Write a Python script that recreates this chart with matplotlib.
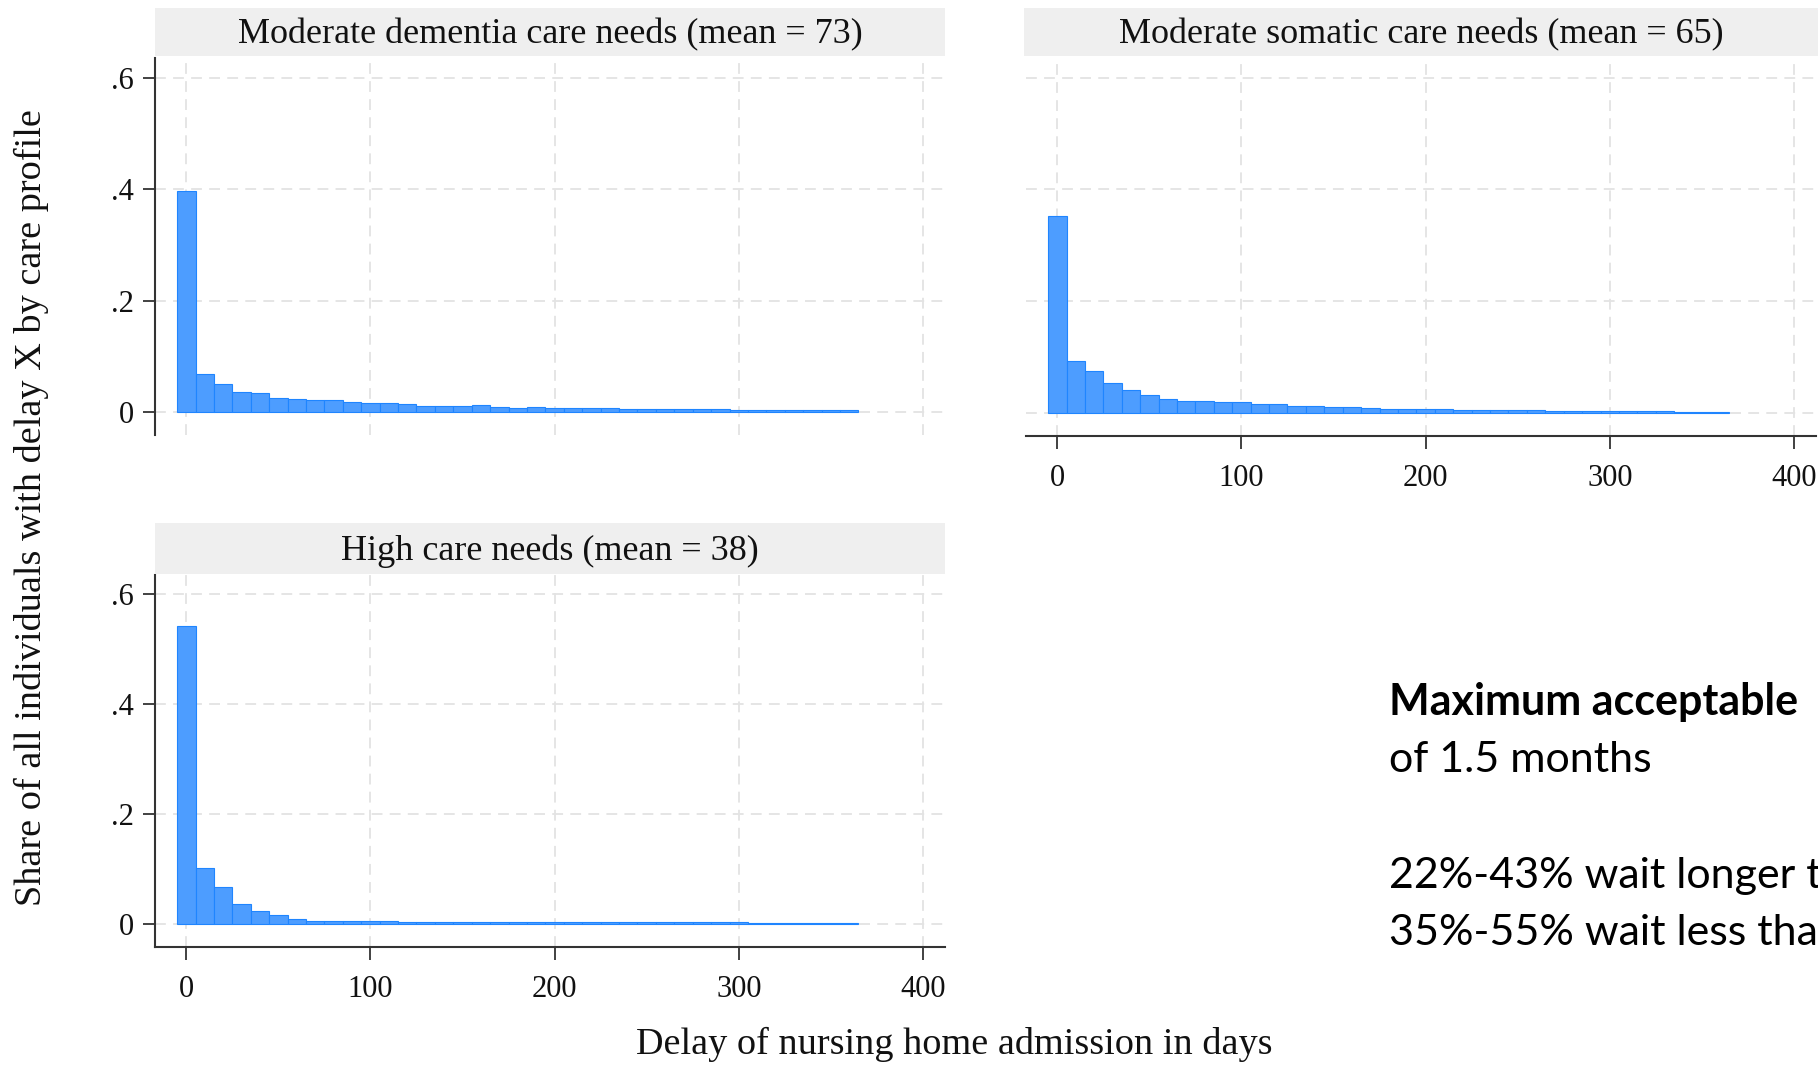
import matplotlib.pyplot as plt

# delay bins (days, bin centre) and share of individuals per care profile
delay_days = list(range(0, 370, 10))

dementia_share = [0.396, 0.068, 0.051, 0.036, 0.035, 0.026, 0.024, 0.021, 0.021, 0.019,
                  0.016, 0.016, 0.014, 0.011, 0.011, 0.011, 0.012, 0.009, 0.008, 0.009,
                  0.008, 0.008, 0.007, 0.007, 0.006, 0.006, 0.006, 0.005, 0.005, 0.005,
                  0.004, 0.004, 0.004, 0.004, 0.003, 0.003, 0.003]
somatic_share = [0.353, 0.093, 0.075, 0.054, 0.041, 0.032, 0.026, 0.022, 0.022, 0.020,
                 0.020, 0.017, 0.017, 0.013, 0.013, 0.010, 0.010, 0.009, 0.008, 0.008,
                 0.007, 0.007, 0.006, 0.006, 0.005, 0.005, 0.005, 0.004, 0.004, 0.004,
                 0.003, 0.003, 0.003, 0.003, 0.002, 0.002, 0.002]
high_share = [0.543, 0.103, 0.068, 0.037, 0.025, 0.017, 0.009, 0.006, 0.006, 0.006,
              0.006, 0.006, 0.005, 0.005, 0.005, 0.005, 0.005, 0.005, 0.005, 0.005,
              0.004, 0.004, 0.004, 0.004, 0.004, 0.004, 0.004, 0.004, 0.004, 0.004,
              0.004, 0.003, 0.003, 0.003, 0.003, 0.003, 0.003]

titles = ["Moderate dementia care needs (mean = 73)",
          "Moderate somatic care needs (mean = 65)",
          "High care needs (mean = 38)"]

y_ticks = [0, 0.2, 0.4, 0.6]
y_labels = ["0", ".2", ".4", ".6"]
x_ticks = [0, 100, 200, 300, 400]

# side note, as far as it is visible on the (cropped) slide
note_lines = ["Maximum acceptable", "of 1.5 months",
              "22%-43% wait longer t", "35%-55% wait less tha"]

SERIF = "Liberation Serif"
BAR = "#4d9dff"
EDGE = "#1f85ff"
GRID = "#e3e3e3"
STRIP = "#efefef"

W, H = 1818, 1065
fig = plt.figure(figsize=(W / 100, H / 100), dpi=100)


def px_axes(x0, y0, x1, y1):
    # axes from pixel box (top-left origin)
    return fig.add_axes([x0 / W, 1 - y1 / H, (x1 - x0) / W, (y1 - y0) / H])


def strip(x0, y0, x1, y1, text):
    s = px_axes(x0, y0, x1, y1)
    s.set_facecolor(STRIP)
    for sp in s.spines.values():
        sp.set_visible(False)
    s.set_xticks([])
    s.set_yticks([])
    s.text(0.5, 0.44, text, ha="center", va="center", fontsize=26, family=SERIF,
           color="#111111", transform=s.transAxes)


def panel(ax, values, show_y, show_x):
    ax.bar(delay_days, values, width=10, color=BAR, edgecolor=EDGE, linewidth=0.8, zorder=2)
    ax.set_xlim(-17, 412)
    ax.set_ylim(-0.041, 0.635)
    ax.set_xticks(x_ticks)
    ax.set_yticks(y_ticks)
    ax.grid(True, color=GRID, linestyle=(0, (6, 4)), linewidth=1.3, zorder=0)
    ax.set_axisbelow(True)
    for sp in ["top", "right"]:
        ax.spines[sp].set_visible(False)
    ax.spines["left"].set_visible(show_y)
    ax.spines["bottom"].set_visible(show_x)
    for sp in ["left", "bottom"]:
        ax.spines[sp].set_color("#333333")
        ax.spines[sp].set_linewidth(1.5)
    ax.tick_params(axis="y", length=9 if show_y else 0, width=1.3, color="#333333", pad=6,
                   labelsize=22, labelleft=show_y)
    ax.tick_params(axis="x", length=9 if show_x else 0, width=1.3, color="#333333", pad=11,
                   labelsize=22, labelbottom=show_x)
    ax.set_yticklabels(y_labels)
    for lab in ax.get_xticklabels() + ax.get_yticklabels():
        lab.set_family(SERIF)
        lab.set_color("#111111")


ax1 = px_axes(155, 58, 945, 435)
panel(ax1, dementia_share, True, False)
strip(155, 8, 945, 56, titles[0])

ax2 = px_axes(1026, 58, 1816, 436)
panel(ax2, somatic_share, False, True)
strip(1024, 8, 1818, 56, titles[1])

ax3 = px_axes(155, 575, 945, 947)
panel(ax3, high_share, True, True)
strip(155, 523, 945, 574, titles[2])

fig.text(31 / W, 1 - 508 / H, "Share of all individuals with delay X by care profile",
         rotation=90, ha="center", va="center", fontsize=27.5, family=SERIF, color="#111111")
fig.text(954 / W, 1 - 1044 / H, "Delay of nursing home admission in days",
         ha="center", va="center", fontsize=27.5, family=SERIF, color="#111111")

note_x = 1389 / W
note_base = [715, 772, 888, 945]
for i, line in enumerate(note_lines):
    fig.text(note_x, 1 - note_base[i] / H, line, fontsize=31, family="Lato",
             fontweight="bold" if i == 0 else "normal", va="baseline", color="black")

plt.savefig("out.png", dpi=100)
plt.close()
